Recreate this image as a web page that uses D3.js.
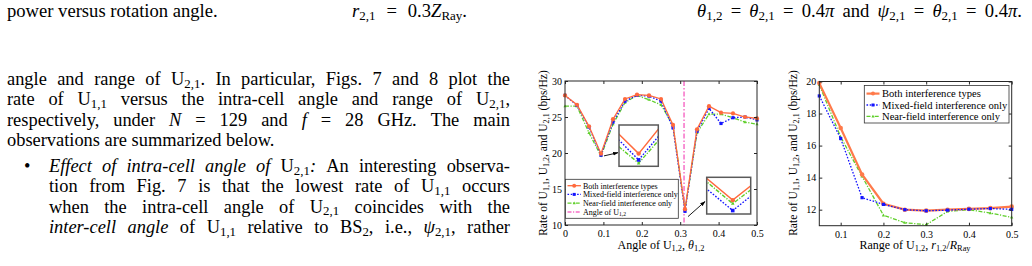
<!DOCTYPE html>
<html><head><meta charset="utf-8">
<script src="https://cdn.jsdelivr.net/npm/d3@7"></script>
<style>
body{margin:0;background:#fff}
svg{display:block}
text{font-family:"Liberation Serif","Times New Roman",serif;fill:#000}
</style>
</head><body>
<svg id="c" width="1032" height="266"></svg>
<script>
// ---------------- data ----------------
const angleX = [0, 0.03125, 0.0625, 0.09375, 0.125, 0.15625, 0.1875, 0.21875, 0.25, 0.28125, 0.3125, 0.34375, 0.375, 0.40625, 0.4375, 0.46875, 0.5];
const angleBoth  = [28.0, 26.7, 23.7, 19.9, 24.7, 27.5, 28.1, 28.0, 27.5, 23.9, 12.2, 23.3, 26.5, 25.6, 25.5, 25.0, 24.8];
const angleMixed = [28.0, 26.6, 23.6, 19.7, 24.3, 27.2, 28.0, 27.9, 27.2, 23.5, 11.9, 23.0, 26.2, 24.1, 24.9, 25.0, 24.6];
const angleNear  = [26.5, 26.5, 22.8, 19.6, 24.0, 27.0, 28.0, 27.4, 26.7, 23.8, 12.1, 22.8, 25.4, 25.4, 24.9, 24.3, 24.0];
const angleU12 = [0.31];
const angleTicks = [0, 0.1, 0.2, 0.3, 0.4, 0.5];
const angleRateTicks = [10, 15, 20, 25, 30];

const rangeX = [0.05, 0.1, 0.15, 0.2, 0.25, 0.3, 0.35, 0.4, 0.45, 0.5];
const rangeBoth  = [19.9, 17.1, 14.2, 12.37, 12.0, 11.94, 12.0, 12.05, 12.1, 12.19];
const rangeMixed = [19.1, 16.44, 12.75, 12.33, 12.0, 11.93, 11.97, 12.03, 12.07, 12.02];
const rangeNear  = [19.8, 16.54, 14.08, 11.65, 11.19, 11.06, 11.89, 12.0, 11.79, 11.52];
const rangeTicks = [0.1, 0.2, 0.3, 0.4, 0.5];
const rangeRateTicks = [12, 14, 16, 18, 20];

const seriesNames = ["Both interference types", "Mixed-field interference only", "Near-field interference only"];
const markerLabel = "Angle of U_{1,2}";

// ---------------- text helpers ----------------
const svg = d3.select("#c");
svg.append("rect").attr("width",1032).attr("height",266).attr("fill","#fff");

function rich(textSel, str, size, subShift){
  const re = /\*([^*]*)\*|_\{([^}]*)\}|([^*_]+)/g;
  let m, shift = 0;
  const sub = size*(subShift===undefined ? 0.2 : subShift);
  while((m = re.exec(str)) !== null){
    const ts = textSel.append("tspan");
    if(m[2] !== undefined){
      ts.text(m[2]).attr("font-size", size*0.7);
      if(shift===0){ts.attr("dy", sub); shift = sub;}
    } else {
      ts.text(m[1] !== undefined ? m[1] : m[3]);
      if(m[1] !== undefined) ts.attr("font-style","italic");
      if(shift!==0){ts.attr("dy", -shift); shift = 0;}
    }
  }
  return textSel;
}
function textLine(str, x, y, size, sub){
  const t = svg.append("text").attr("x",x).attr("y",y).attr("font-size",size).attr("xml:space","preserve");
  return rich(t, str, size, sub);
}
function justLine(str, x0, x1, y, size, sub){
  const words = str.split(" ");
  const nodes = words.map(w=>{
    const t = svg.append("text").attr("x",0).attr("y",y).attr("font-size",size);
    rich(t, w, size, sub);
    return t;
  });
  const widths = nodes.map(n=>n.node().getComputedTextLength());
  const total = d3.sum(widths);
  const gap = (x1-x0-total)/(words.length-1);
  let x = x0;
  nodes.forEach((n,i)=>{n.attr("x",x); x += widths[i]+gap;});
}

// ---------------- page text ----------------
const capSize = 18.6;
textLine("power versus rotation angle.", 7, 16.5, capSize);
justLine("*r*_{2,1} = 0.3*Z*_{Ray}.", 352, 467, 16.5, capSize);
justLine("*θ*_{1,2} = *θ*_{2,1} = 0.4*π* and *ψ*_{2,1} = *θ*_{2,1} = 0.4*π*.", 697, 1022, 16.5, capSize);

const bodySize = 18.4, bsub = 0.14;
justLine("angle and range of U_{2,1}. In particular, Figs. 7 and 8 plot the", 7, 510, 85, bodySize, bsub);
justLine("rate of U_{1,1} versus the intra-cell angle and range of U_{2,1},", 7, 510, 105.3, bodySize, bsub);
justLine("respectively, under *N* = 129 and *f* = 28 GHz. The main", 7, 510, 125.6, bodySize, bsub);
textLine("observations are summarized below.", 7, 146, bodySize, bsub);
textLine("•", 24, 172, bodySize, bsub);
justLine("*Effect* *of* *intra-cell* *angle* *of* U_{2,1}*:* An interesting observa-", 49, 510, 172, bodySize, bsub);
justLine("tion from Fig. 7 is that the lowest rate of U_{1,1} occurs", 49, 510, 192.3, bodySize, bsub);
justLine("when the intra-cell angle of U_{2,1} coincides with the", 49, 510, 212.6, bodySize, bsub);
justLine("*inter-cell* *angle* of U_{1,1} relative to BS_{2}, i.e., *ψ*_{2,1}, rather", 49, 510, 233, bodySize, bsub);

// ---------------- chart helpers ----------------
const colBoth = "#ff6a3d", colMixed = "#1414ff", colNear = "#5fcf2a", colPink = "#f76fc8";
const styles = [
  {c:colBoth, dash:null, m:"circle"},
  {c:colMixed, dash:"1.6,1.6", m:"square"},
  {c:colNear, dash:"4,1.5,1.2,1.5", m:"triangle"}
];
svg.append("defs").append("marker").attr("id","arr").attr("viewBox","0 0 10 10")
  .attr("refX",9).attr("refY",5).attr("markerWidth",6).attr("markerHeight",6).attr("orient","auto")
  .append("path").attr("d","M0,1.5L10,5L0,8.5Z").attr("fill","#000");

function drawMarkers(g, pts, st, size){
  if(st.m==="circle"){
    g.selectAll(null).data(pts).join("circle").attr("cx",d=>d[0]).attr("cy",d=>d[1]).attr("r",size)
      .attr("fill",st.c);
  } else if(st.m==="square"){
    g.selectAll(null).data(pts).join("rect").attr("x",d=>d[0]-size).attr("y",d=>d[1]-size)
      .attr("width",size*2).attr("height",size*2).attr("fill",st.c);
  } else {
    g.selectAll(null).data(pts).join("path")
      .attr("d",d=>`M${d[0]},${d[1]-size*1.1}L${d[0]+size},${d[1]+size*0.7}L${d[0]-size},${d[1]+size*0.7}Z`)
      .attr("fill",st.c);
  }
}
function drawSeries(g, xs, ys, x, y, st, w, ms){
  const pts = xs.map((v,i)=>[x(v), y(ys[i])]);
  g.append("path").attr("d", d3.line()(pts)).attr("fill","none").attr("stroke",st.c)
    .attr("stroke-width",w).attr("stroke-dasharray",st.dash);
  drawMarkers(g, pts, st, ms);
}
function frame(g, x, y, xt, yt, fs){
  const [l,r] = x.range(), [b,t] = y.range();
  const ax = (sel)=>sel.call(s=>s.select(".domain").remove()).call(s=>s.selectAll("line").attr("stroke","#262626"));
  g.append("g").attr("transform",`translate(0,${b})`)
    .call(d3.axisBottom(x).tickValues(xt).tickSizeInner(-3).tickSizeOuter(0).tickPadding(5).tickFormat(d3.format("")))
    .call(ax).call(s=>s.selectAll("text").attr("font-size",fs).attr("font-family","Liberation Serif").attr("fill","#262626"));
  g.append("g").attr("transform",`translate(0,${t})`)
    .call(d3.axisTop(x).tickValues(xt).tickSizeInner(-3).tickSizeOuter(0).tickFormat(""))
    .call(ax);
  g.append("g").attr("transform",`translate(${l},0)`)
    .call(d3.axisLeft(y).tickValues(yt).tickSizeInner(-3).tickSizeOuter(0).tickPadding(3).tickFormat(d3.format("")))
    .call(ax).call(s=>s.selectAll("text").attr("font-size",fs).attr("font-family","Liberation Serif").attr("fill","#262626"));
  g.append("g").attr("transform",`translate(${r},0)`)
    .call(d3.axisRight(y).tickValues(yt).tickSizeInner(-3).tickSizeOuter(0).tickFormat(""))
    .call(ax);
  g.append("rect").attr("x",l).attr("y",t).attr("width",r-l).attr("height",b-t)
    .attr("fill","none").attr("stroke","#262626").attr("stroke-width",1);
}

// ---------------- Fig. 7 (angle) ----------------
{
  const g = svg.append("g");
  const x = d3.scaleLinear().domain([0,0.5]).range([565,757]);
  const y = d3.scaleLinear().domain([10,30]).range([225,81]);
  g.selectAll(null).data(angleU12).join("line")
    .attr("x1",d=>x(d)).attr("x2",d=>x(d)).attr("y1",y(30)).attr("y2",y(10))
    .attr("stroke",colPink).attr("stroke-width",1.5).attr("stroke-dasharray","5,2,1.5,2");
  const data = [angleBoth, angleMixed, angleNear];
  [2,1,0].forEach(i=>drawSeries(g, angleX, data[i], x, y, styles[i], 1.3, i===0?2.1:1.6));
  frame(g, x, y, angleTicks, angleRateTicks, 10);

  function inset(box, xd, yd, pt){
    const ig = g.append("g");
    const id = "clip"+Math.round(box[0]);
    ig.append("clipPath").attr("id",id).append("rect").attr("x",box[0]).attr("y",box[1]).attr("width",box[2]-box[0]).attr("height",box[3]-box[1]);
    ig.append("rect").attr("x",box[0]).attr("y",box[1]).attr("width",box[2]-box[0]).attr("height",box[3]-box[1]).attr("fill","#fff");
    const ix = d3.scaleLinear().domain(xd).range([box[0],box[2]]);
    const iy = d3.scaleLinear().domain(yd).range([box[3],box[1]]);
    const cg = ig.append("g").attr("clip-path",`url(#${id})`);
    [2,1,0].forEach(i=>drawSeries(cg, angleX, data[i], ix, iy, styles[i], 1.4, i===0?2.2:1.8));
    ig.append("rect").attr("x",box[0]).attr("y",box[1]).attr("width",box[2]-box[0]).attr("height",box[3]-box[1])
      .attr("fill","none").attr("stroke","#5a5a5a").attr("stroke-width",1.5);
    g.append("line").attr("x1",x(pt[0])+pt[2]).attr("y1",y(pt[1])+pt[3]).attr("x2",pt[4]).attr("y2",pt[5])
      .attr("stroke","#000").attr("stroke-width",0.9).attr("marker-end","url(#arr)");
  }
  inset([619,125,658.3,166.3], [0.09375-0.005,0.09375+0.005], [19.5,20.8], [0.09375, 19.6, 3, 0, 618, 152.7]);
  inset([706.7,177.3,750.7,214], [0.3125-0.00168,0.3125+0.00116], [11.8,12.86], [0.3125, 12.0, 3, 6, 705, 201.5]);

  const lg = g.append("g");
  lg.append("rect").attr("x",565.5).attr("y",179.3).attr("width",112.8).attr("height",39)
    .attr("fill","#fff").attr("stroke","#333").attr("stroke-width",0.8);
  const ly = [185.7, 194.4, 203.2, 212];
  seriesNames.forEach((n,i)=>{
    lg.append("line").attr("x1",567.5).attr("x2",581).attr("y1",ly[i]).attr("y2",ly[i])
      .attr("stroke",styles[i].c).attr("stroke-width",1.3).attr("stroke-dasharray",styles[i].dash);
    drawMarkers(lg, [[574.2, ly[i]]], styles[i], i===0?2:1.5);
    rich(lg.append("text").attr("x",583).attr("y",ly[i]+2.8).attr("font-size",8), n, 8);
  });
  lg.append("line").attr("x1",567.5).attr("x2",581).attr("y1",ly[3]).attr("y2",ly[3])
    .attr("stroke",colPink).attr("stroke-width",1.3).attr("stroke-dasharray","4,1.5,1.2,1.5");
  rich(lg.append("text").attr("x",583).attr("y",ly[3]+2.8).attr("font-size",8), markerLabel, 8);

  rich(svg.append("text").attr("x",661).attr("y",249).attr("font-size",12).attr("text-anchor","middle"),
    "Angle of U_{1,2}, *θ*_{1,2}", 12);
  rich(svg.append("text").attr("transform","translate(547,153) rotate(-90)").attr("font-size",11.5).attr("text-anchor","middle"),
    "Rate of U_{1,1}, U_{1,2}, and U_{2,1} (bps/Hz)", 11.5);
}

// ---------------- Fig. 8 (range) ----------------
{
  const g = svg.append("g");
  const x = d3.scaleLinear().domain([0.05,0.5]).range([819.3,1011.7]);
  const y = d3.scaleLinear().domain([11,20]).range([225.7,81.5]);
  const data = [rangeBoth, rangeMixed, rangeNear];
  const st = [{c:"#ff7a4a",dash:null,m:"circle"}, styles[1], styles[2]];
  drawSeries(g, rangeX, data[2], x, y, st[2], 1.3, 1.6);
  drawSeries(g, rangeX, data[0], x, y, st[0], 2.2, 2.3);
  drawSeries(g, rangeX, data[1], x, y, st[1], 1.3, 1.6);
  frame(g, x, y, rangeTicks, rangeRateTicks, 10);

  const lg = g.append("g");
  lg.append("rect").attr("x",864.3).attr("y",85.5).attr("width",144.7).attr("height",37.5)
    .attr("fill","#fff").attr("stroke","#333").attr("stroke-width",0.8);
  const ly = [93.6, 105, 116.4];
  seriesNames.forEach((n,i)=>{
    lg.append("line").attr("x1",866.5).attr("x2",879.5).attr("y1",ly[i]).attr("y2",ly[i])
      .attr("stroke",st[i].c).attr("stroke-width",i===0?2.2:1.3).attr("stroke-dasharray",st[i].dash);
    drawMarkers(lg, [[873, ly[i]]], st[i], i===0?2:1.5);
    rich(lg.append("text").attr("x",882).attr("y",ly[i]+3.6).attr("font-size",10.6), n, 10.6);
  });

  rich(svg.append("text").attr("x",915).attr("y",249).attr("font-size",12).attr("text-anchor","middle"),
    "Range of U_{1,2}, *r*_{1,2}/*R*_{Ray}", 12);
  rich(svg.append("text").attr("transform","translate(797,153) rotate(-90)").attr("font-size",11.5).attr("text-anchor","middle"),
    "Rate of U_{1,1}, U_{1,2}, and U_{2,1} (bps/Hz)", 11.5);
}
</script>
</body></html>
